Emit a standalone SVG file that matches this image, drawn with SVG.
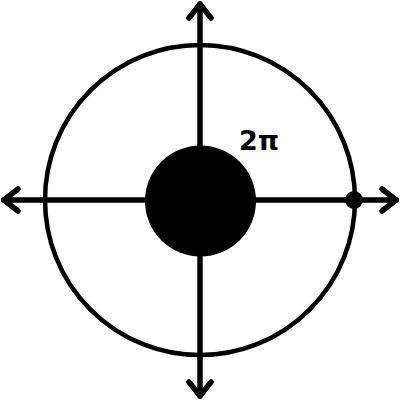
<svg xmlns="http://www.w3.org/2000/svg" width="400" height="400" viewBox="0 0 400 400">
<style>
.ax{stroke:#000;stroke-width:5.5;fill:none;stroke-linecap:round;stroke-linejoin:round}
.lbl{font-family:"DejaVu Sans",sans-serif;font-weight:bold;font-size:27px;fill:#000}
</style>
<rect width="400" height="400" fill="#fff"/>
<g id="circle"><circle cx="200" cy="200" r="155" fill="none" stroke="#000" stroke-width="4.5"/></g>
<g id="connectors">
<line class="ax" x1="4" y1="200" x2="396" y2="200"/>
<line class="ax" x1="200" y1="4" x2="200" y2="396"/>
<polyline class="ax" points="18,189 4,200 18,211"/>
<polyline class="ax" points="382,189 396,200 382,211"/>
<polyline class="ax" points="189,18 200,4 211,18"/>
<polyline class="ax" points="189,382 200,396 211,382"/>
</g>
<g id="center"><circle cx="200.5" cy="201" r="55.5" fill="#000"/></g>
<g id="point"><circle cx="354" cy="200" r="9" fill="#000"/></g>
<g id="label"><text class="lbl" x="239" y="150">2π</text></g>
</svg>
